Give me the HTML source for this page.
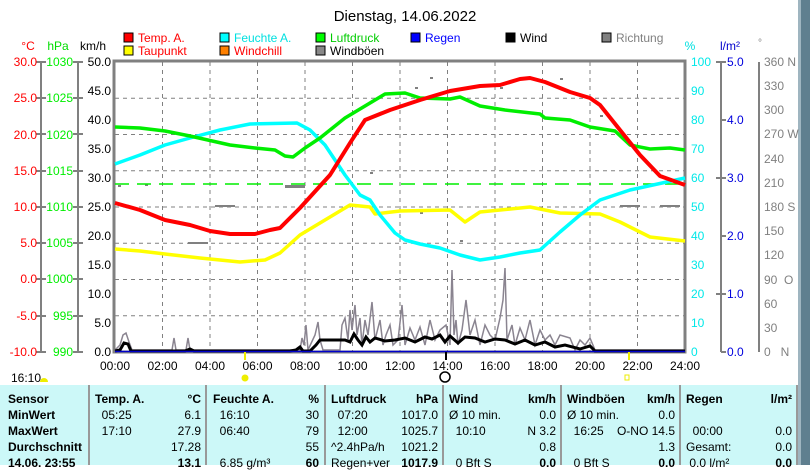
<!DOCTYPE html>
<html><head><meta charset="utf-8"><style>
body{margin:0;width:810px;height:465px;overflow:hidden;background:#fff;font-family:"Liberation Sans",sans-serif;}
svg{position:absolute;left:0;top:0}
.t{position:absolute;top:385px;left:0;width:797px;height:80px;background:#ccf8f8;}
.c{position:absolute;top:385px;height:80px;font-size:12px;color:#000;}
.c div{height:16px;line-height:16px;white-space:nowrap;position:relative}
.b{font-weight:bold}
.r{position:absolute;right:4px}
.sep{position:absolute;top:385px;width:2px;height:80px;background:#999}
</style></head><body>
<svg width="810" height="465" font-family="Liberation Sans, sans-serif" font-size="12">
<rect x="798" y="0" width="12" height="465" fill="#5f7f8f"/>
<rect x="798" y="0" width="3" height="465" fill="#9fb5c0"/>
<text x="405" y="21" text-anchor="middle" font-size="15">Dienstag, 14.06.2022</text>
<!-- legend -->
<g font-size="12">
<rect x="124" y="33" width="9" height="9" fill="red" stroke="#000"/><text x="138" y="42" fill="red">Temp. A.</text>
<rect x="124" y="46" width="9" height="9" fill="yellow" stroke="#000"/><text x="138" y="55" fill="red">Taupunkt</text>
<rect x="220" y="33" width="9" height="9" fill="cyan" stroke="#000"/><text x="234" y="42" fill="#00e0e0">Feuchte A.</text>
<rect x="220" y="46" width="9" height="9" fill="#ff8000" stroke="#000"/><text x="234" y="55" fill="red">Windchill</text>
<rect x="316" y="33" width="9" height="9" fill="#00ff00" stroke="#000"/><text x="330" y="42" fill="#00cc00">Luftdruck</text>
<rect x="316" y="46" width="9" height="9" fill="#888" stroke="#000"/><text x="330" y="55">Windböen</text>
<rect x="411" y="33" width="9" height="9" fill="#0000ff" stroke="#000"/><text x="425" y="42" fill="#0000ff">Regen</text>
<rect x="506" y="33" width="9" height="9" fill="#000" stroke="#000"/><text x="520" y="42">Wind</text>
<rect x="602" y="33" width="9" height="9" fill="#808080" stroke="#000"/><text x="616" y="42" fill="#808080">Richtung</text>
</g>
<text x="28" y="50" text-anchor="middle" fill="red">°C</text>
<text x="58" y="50" text-anchor="middle" fill="#00dd00">hPa</text>
<text x="93" y="50" text-anchor="middle">km/h</text>
<text x="690" y="50" text-anchor="middle" fill="#00e0e0">%</text>
<text x="730" y="50" text-anchor="middle" fill="#0000cc">l/m²</text>
<text x="760" y="46" text-anchor="middle" fill="#808080" font-size="10">°</text>
<!-- grid -->
<g stroke="#808080" stroke-dasharray="4,4" stroke-width="1">
<path d="M162.5 62V352M210 62V352M257.5 62V352M305 62V352M352.5 62V352M400 62V352M447.5 62V352M495 62V352M542.5 62V352M590 62V352M637.5 62V352"/>
<path d="M115 98.25H685M115 134.5H685M115 170.75H685M115 207H685M115 243.25H685M115 279.5H685M115 315.75H685"/>
</g>
<!-- left axes -->
<g stroke="#808080" stroke-width="2" fill="none">
<path d="M41 62V352M78 62V352M721 62V352M759 62V352"/>
<rect x="114" y="61" width="571" height="291" stroke-width="3"/>
</g>
<g fill="#808080">
<!-- ticks -->
<path d="M36 61h10v2h-10zM36 97h10v2h-10zM36 133h10v2h-10zM36 170h10v2h-10zM36 206h10v2h-10zM36 242h10v2h-10zM36 278h10v2h-10zM36 315h10v2h-10zM36 351h10v2h-10z"/>
<path d="M73 61h10v2h-10zM73 97h10v2h-10zM73 133h10v2h-10zM73 170h10v2h-10zM73 206h10v2h-10zM73 242h10v2h-10zM73 278h10v2h-10zM73 315h10v2h-10zM73 351h10v2h-10z"/>
<path d="M716 61h10v2h-10zM721 119h5v2h-5zM716 177h10v2h-10zM721 235h5v2h-5zM716 293h10v2h-10zM721 351h5v2h-5z"/>
</g>
<g fill="red" text-anchor="end">
<text x="37" y="66">30.0</text><text x="37" y="102">25.0</text><text x="37" y="139">20.0</text><text x="37" y="175">15.0</text><text x="37" y="211">10.0</text><text x="37" y="247">5.0</text><text x="37" y="283">0.0</text><text x="37" y="320">-5.0</text><text x="37" y="356">-10.0</text>
</g>
<g fill="#00ee00" text-anchor="end">
<text x="73" y="66">1030</text><text x="73" y="102">1025</text><text x="73" y="139">1020</text><text x="73" y="175">1015</text><text x="73" y="211">1010</text><text x="73" y="247">1005</text><text x="73" y="283">1000</text><text x="73" y="320">995</text><text x="73" y="356">990</text>
</g>
<g text-anchor="end">
<text x="111" y="66">50.0</text><text x="111" y="95">45.0</text><text x="111" y="124">40.0</text><text x="111" y="153">35.0</text><text x="111" y="182">30.0</text><text x="111" y="211">25.0</text><text x="111" y="240">20.0</text><text x="111" y="269">15.0</text><text x="111" y="298">10.0</text><text x="111" y="327">5.0</text><text x="111" y="356">0.0</text>
</g>
<g fill="#00e8e8">
<text x="691" y="66">100</text><text x="691" y="95">90</text><text x="691" y="124">80</text><text x="691" y="153">70</text><text x="691" y="182">60</text><text x="691" y="211">50</text><text x="691" y="240">40</text><text x="691" y="269">30</text><text x="691" y="298">20</text><text x="691" y="327">10</text><text x="691" y="356">0</text>
</g>
<g fill="#0000dd">
<text x="727" y="66">5.0</text><text x="727" y="124">4.0</text><text x="727" y="182">3.0</text><text x="727" y="240">2.0</text><text x="727" y="298">1.0</text><text x="727" y="356">0.0</text>
</g>
<g fill="#808080">
<text x="764" y="66">360 N</text><text x="764" y="90">330</text><text x="764" y="114">300</text><text x="764" y="138">270 W</text><text x="764" y="163">240</text><text x="764" y="187">210</text><text x="764" y="211">180 S</text><text x="764" y="235">150</text><text x="764" y="259">120</text><text x="764" y="284">90&#160;&#160;O</text><text x="764" y="308">60</text><text x="764" y="332">30</text><text x="764" y="356">0&#160;&#160;&#160;N</text>
</g>
<!-- direction dots -->
<g fill="#808080">
<rect x="285" y="185" width="20" height="3"/><rect x="215" y="205" width="20" height="2"/><rect x="188" y="242" width="20" height="2"/><rect x="415" y="87" width="3" height="2"/><rect x="430" y="77" width="3" height="2"/><rect x="500" y="87" width="3" height="2"/><rect x="560" y="78" width="3" height="2"/><rect x="600" y="115" width="3" height="2"/><rect x="620" y="205" width="20" height="2"/><rect x="660" y="205" width="20" height="2"/><rect x="118" y="185" width="3" height="2"/><rect x="145" y="184" width="3" height="2"/><rect x="370" y="172" width="3" height="2"/><rect x="420" y="212" width="3" height="2"/><rect x="460" y="240" width="3" height="2"/>
</g>
<!-- green dashed -->
<path d="M115 184H685" stroke="#00ee00" stroke-width="1.5" stroke-dasharray="14,8"/>
<!-- gusts -->
<polyline fill="none" stroke="#8a8490" stroke-width="1.5" points="115,350 120,345 123,335 126,333 129,342 132,350 172,350 174,338 176,350 186,350 188,338 190,350 300,350 302,338 304,345 306,325 308,350 315,335 318,322 320,340 323,350 340,350 342,325 345,318 348,340 350,310 352,330 355,305 357,335 360,318 362,345 365,320 368,335 372,302 375,340 380,320 383,345 386,335 390,325 393,345 398,340 402,305 405,345 410,328 415,340 420,327 425,345 430,320 435,340 440,330 446,325 450,345 452,270 454,335 456,320 458,345 462,330 466,300 470,335 475,320 480,345 485,325 490,335 495,340 500,318 503,300 505,268 507,340 512,325 515,345 520,328 525,340 530,320 535,345 540,330 545,340 550,335 555,345 560,335 570,338 575,350 580,340 585,345 590,338 595,350 685,350"/>
<!-- wind -->
<polyline fill="none" stroke="#000" stroke-width="3" points="115,351 120,350 124,343 128,344 131,351 138,351 185,351 190,349 194,351 290,351 296,350 300,347 303,351 310,351 316,345 320,340 345,340 350,342 354,334 358,340 362,345 366,337 370,342 375,338 385,341 395,340 405,338 415,342 425,337 432,339 440,335 445,342 450,336 458,343 465,337 475,338 485,342 495,339 505,340 515,344 525,340 535,345 545,342 555,347 565,345 580,349 590,346 595,351 685,351"/>
<path d="M115 351.5H685" stroke="#0000cc" stroke-width="1.5"/>
<!-- series -->
<g fill="none" stroke-width="3.5" stroke-linejoin="round">
<polyline stroke="#ffff00" points="115,249 140,251 165,254 200,258 240,262 265,260 280,253 300,235 330,217 350,205 370,207 375,214 400,211 450,210 465,222 480,212 530,207 560,213 600,214 620,222 650,237 685,241"/>
<polyline stroke="#00ffff" points="115,164 140,155 165,145 190,138 220,130 250,124 297,123 310,130 325,145 345,175 360,195 370,200 380,215 395,233 405,240 420,244 440,248 460,255 480,260 500,257 520,253 540,250 560,232 580,215 600,200 630,190 685,178"/>
<polyline stroke="#00ee00" points="115,127 140,128 165,131 190,136 230,145 255,148 275,150 285,156 293,157 305,148 320,138 345,118 385,94 405,93 420,98 450,99 460,97 480,106 505,110 540,114 545,118 570,120 590,127 615,131 630,145 650,149 670,148 685,150"/>
<polyline stroke="#ff0000" stroke-width="4" points="115,203 140,210 165,220 190,225 210,231 230,234 255,234 270,230 280,228 300,208 330,175 350,143 365,120 390,110 420,100 450,91 480,86 500,85 520,79 530,78 545,82 570,92 590,98 600,105 620,130 640,155 660,176 685,185"/>
</g>
<!-- x labels -->
<g text-anchor="middle">
<text x="115" y="370">00:00</text><text x="162.5" y="370">02:00</text><text x="210" y="370">04:00</text><text x="257.5" y="370">06:00</text><text x="305" y="370">08:00</text><text x="352.5" y="370">10:00</text><text x="400" y="370">12:00</text><text x="447.5" y="370">14:00</text><text x="495" y="370">16:00</text><text x="542.5" y="370">18:00</text><text x="590" y="370">20:00</text><text x="637.5" y="370">22:00</text><text x="685" y="370">24:00</text>
</g>
<rect x="244" y="352" width="2" height="8" fill="#ee0"/><rect x="628" y="352" width="2" height="8" fill="#ee0"/><rect x="445" y="352" width="2" height="8" fill="#000"/>
<text x="11" y="382">16:10</text>
<path d="M40 382a4 4 0 0 1 8 0z" fill="#ee0"/>
<circle cx="245" cy="378" r="3.5" fill="#ee0"/>
<circle cx="445" cy="377" r="5" fill="none" stroke="#000" stroke-width="1.5"/>
<rect x="625" y="375" width="4" height="5" fill="none" stroke="#ee0"/>
</svg>
<div class="t"></div>
<div class="sep" style="left:88px"></div><div class="sep" style="left:205px"></div><div class="sep" style="left:324px"></div><div class="sep" style="left:442px"></div><div class="sep" style="left:560px"></div><div class="sep" style="left:679px"></div><div class="sep" style="left:796px"></div>
<div class="c" style="left:8px;width:80px;top:391px"><div class="b">Sensor</div><div class="b">MinWert</div><div class="b">MaxWert</div><div class="b">Durchschnitt</div><div class="b">14.06. 23:55</div></div>
<div class="c" style="left:95px;width:110px;top:391px"><div class="b">Temp. A.<span class="r">°C</span></div><div>&#160;&#160;05:25<span class="r">6.1</span></div><div>&#160;&#160;17:10<span class="r">27.9</span></div><div><span class="r">17.28</span></div><div class="b"><span class="r">13.1</span></div></div>
<div class="c" style="left:213px;width:110px;top:391px"><div class="b">Feuchte A.<span class="r">%</span></div><div>&#160;&#160;16:10<span class="r">30</span></div><div>&#160;&#160;06:40<span class="r">79</span></div><div><span class="r">55</span></div><div>&#160;&#160;6.85 g/m³<span class="r b">60</span></div></div>
<div class="c" style="left:331px;width:111px;top:391px"><div class="b">Luftdruck<span class="r">hPa</span></div><div>&#160;&#160;07:20<span class="r">1017.0</span></div><div>&#160;&#160;12:00<span class="r">1025.7</span></div><div>^2.4hPa/h<span class="r">1021.2</span></div><div>Regen+ver<span class="r b">1017.9</span></div></div>
<div class="c" style="left:449px;width:111px;top:391px"><div class="b">Wind<span class="r">km/h</span></div><div>Ø 10 min.<span class="r">0.0</span></div><div>&#160;&#160;10:10<span class="r">N 3.2</span></div><div><span class="r">0.8</span></div><div>&#160;&#160;0 Bft S<span class="r b">0.0</span></div></div>
<div class="c" style="left:567px;width:112px;top:391px"><div class="b">Windböen<span class="r">km/h</span></div><div>Ø 10 min.<span class="r">0.0</span></div><div>&#160;&#160;16:25<span class="r">O-NO 14.5</span></div><div><span class="r">1.3</span></div><div>&#160;&#160;0 Bft S<span class="r b">0.0</span></div></div>
<div class="c" style="left:686px;width:110px;top:391px"><div class="b">Regen<span class="r">l/m²</span></div><div></div><div>&#160;&#160;00:00<span class="r">0.0</span></div><div>Gesamt:<span class="r">0.0</span></div><div>&#160;0.0 l/m²<span class="r b">0.0</span></div></div>
</body></html>
